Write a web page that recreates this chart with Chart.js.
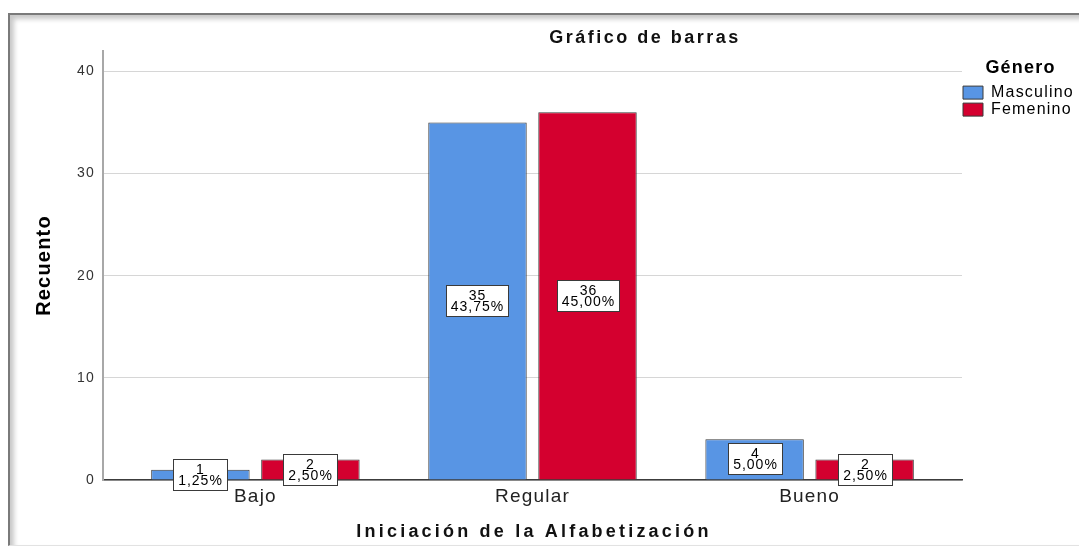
<!DOCTYPE html>
<html>
<head>
<meta charset="utf-8">
<script src="https://cdn.jsdelivr.net/npm/chart.js@4.4.0/dist/chart.umd.min.js"></script>
<style>
html, body { margin: 0; padding: 0; background: #fff; overflow: hidden; }
#marco {
    position: absolute; left: 8px; top: 13px; width: 1200px; height: 530px;
    border-top: 2px solid #7a7a7a; border-left: 2px solid #7a7a7a; border-bottom: 1px solid #e2e2e2;
    box-shadow: inset 4px 4px 5px rgba(0, 0, 0, 0.22);
}
#grafico { position: absolute; left: 0; top: 0; }
</style>
</head>
<body>
<div id="marco"></div>
<canvas id="grafico" width="1079" height="546"></canvas>
<script>
const categorias = ['Bajo', 'Regular', 'Bueno'];
const series = ['Masculino', 'Femenino'];
const masculino = [1, 35, 4];
const femenino = [2, 36, 2];
const yTicks = [0, 10, 20, 30, 40];
const tituloGrafico = 'Gráfico de barras';
const tituloEjeX = 'Iniciación de la Alfabetización';
const tituloEjeY = 'Recuento';
const tituloLeyenda = 'Género';

const total = masculino.concat(femenino).reduce((a, b) => a + b, 0);
const porcentaje = v => (v / total * 100).toFixed(2).replace('.', ',') + '%';

const fuente = '"Liberation Sans", Arial, sans-serif';
Chart.defaults.font.family = fuente;

// SPSS dibuja el texto bastante espaciado
const espaciado = {
    id: 'espaciado',
    beforeLayout(chart) { chart.ctx.letterSpacing = '1.2px'; },
    beforeDraw(chart) { chart.ctx.letterSpacing = '1.2px'; }
};

// cajas blancas con recuento y porcentaje en el centro de cada barra
const etiquetas = {
    id: 'etiquetas',
    afterDatasetsDraw(chart) {
        const ctx = chart.ctx;
        ctx.save();
        ctx.font = '14px ' + fuente;
        ctx.letterSpacing = '1px';
        ctx.textAlign = 'center';
        ctx.textBaseline = 'middle';
        chart.data.datasets.forEach((ds, i) => {
            chart.getDatasetMeta(i).data.forEach((bar, j) => {
                const v = ds.data[j].y;
                const lineas = [String(v), porcentaje(v)];
                const w = Math.round(Math.max(...lineas.map(t => ctx.measureText(t).width)) + 9);
                const h = 31;
                const cx = Math.round(bar.x);
                const cy = Math.round((bar.y + bar.base) / 2);
                const x0 = cx - Math.round(w / 2) + 0.5, y0 = cy - Math.round(h / 2) + 0.5;
                ctx.fillStyle = '#fff';
                ctx.fillRect(x0, y0, w, h);
                ctx.strokeStyle = '#3a3a3a';
                ctx.lineWidth = 1;
                ctx.strokeRect(x0, y0, w, h);
                ctx.fillStyle = '#000';
                ctx.fillText(lineas[0], cx + 0.5, cy - 5);
                ctx.fillText(lineas[1], cx + 0.5, cy + 6);
            });
        });
        ctx.restore();
    }
};

const titulos = {
    id: 'titulos',
    afterDraw(chart) {
        const {ctx, chartArea} = chart;
        ctx.save();
        ctx.fillStyle = '#111';
        ctx.textAlign = 'center';
        ctx.textBaseline = 'middle';
        ctx.font = 'bold 18px ' + fuente;
        ctx.letterSpacing = '2.5px';
        ctx.fillText(tituloGrafico, 645, 38);
        ctx.letterSpacing = '3.2px';
        ctx.fillText(tituloEjeX, (chartArea.left + chartArea.right) / 2 + 1.5, 532);
        ctx.restore();
    }
};

const ctx = document.getElementById('grafico').getContext('2d');
const myChart = new Chart(ctx, {
    type: 'bar',
    data: {
        datasets: [{
            label: series[0],
            data: masculino.map((v, i) => ({x: i, y: v})),
            backgroundColor: '#5895e4',
            borderColor: '#3a3a3a',
            borderWidth: 1,
            categoryPercentage: 0.794,
            barPercentage: 0.895
        }, {
            label: series[1],
            data: femenino.map((v, i) => ({x: i, y: v})),
            backgroundColor: '#d4002f',
            borderColor: '#3a3a3a',
            borderWidth: 1,
            categoryPercentage: 0.794,
            barPercentage: 0.895
        }]
    },
    options: {
        responsive: false,
        animation: false,
        layout: { padding: { top: 51, left: 0, right: 0, bottom: 0 } },
        plugins: {
            title: { display: false },
            tooltip: { enabled: false },
            legend: {
                position: 'right',
                align: 'start',
                maxWidth: 117,
                title: {
                    display: true,
                    text: tituloLeyenda,
                    color: '#000',
                    font: { size: 18, weight: 'bold' },
                    padding: { top: 8, bottom: 3 }
                },
                labels: {
                    boxWidth: 20,
                    boxHeight: 13,
                    padding: 1,
                    color: '#000',
                    font: { size: 16 }
                }
            }
        },
        scales: {
            x: {
                type: 'linear',
                offset: false,
                min: -0.55,
                max: 2.55,
                afterBuildTicks: ax => { ax.ticks = categorias.map((c, i) => ({value: i})); },
                afterFit: ax => { ax.height = 66; },
                grid: { display: false, drawTicks: false, offset: false },
                border: { color: '#3c3c3c', width: 1.5 },
                ticks: {
                    callback: v => categorias[v],
                    autoSkip: false,
                    maxRotation: 0,
                    color: '#222',
                    font: { size: 19 },
                    padding: 5
                }
            },
            y: {
                min: 0,
                max: 42,
                afterBuildTicks: ax => { ax.ticks = yTicks.map(v => ({value: v})); },
                afterFit: ax => { ax.width = 103; },
                grid: { color: '#d6d6d6', drawTicks: false },
                border: { color: '#a8a8a8', width: 2 },
                ticks: { color: '#333', font: { size: 14 }, padding: 8 },
                title: {
                    display: true,
                    text: tituloEjeY,
                    color: '#000',
                    font: { family: '"Liberation Sans Narrow", "Liberation Sans", Arial', size: 20, weight: 'bold' },
                    padding: { top: 32, bottom: 0 }
                }
            }
        }
    },
    plugins: [espaciado, etiquetas, titulos]
});
</script>
</body>
</html>
